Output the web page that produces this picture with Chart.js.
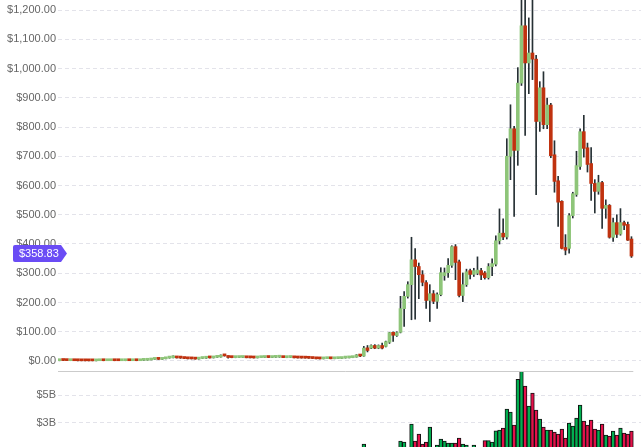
<!DOCTYPE html>
<html>
<head>
<meta charset="utf-8">
<script src="https://cdn.jsdelivr.net/npm/chart.js@4"></script>
<style>
  html, body { margin: 0; padding: 0; background: #fff; overflow: hidden; }
  #wrap { position: absolute; left: 0; top: -10px; width: 643px; height: 484px; }
</style>
</head>
<body>
<div id="wrap"><canvas id="candleChart" width="643" height="484"></canvas></div>
<script>
// weekly candles, oldest first
var opens = [1.0, 2.8, 1.7, 1.2, 1.4, 0.9, 0.8, 0.7, 0.6, 0.6, 0.5, 0.9, 1.0, 0.9, 0.95, 1.0, 0.9, 0.85, 0.95, 1.1,
  0.95, 1.2, 0.95, 2.2, 2.5, 3.5, 5.5, 6.5, 5.6, 7.5, 10, 11, 12, 10.5, 10, 8.5, 7.5, 7.2, 6.5, 8.5,
  9.5, 12, 10.5, 12.5, 13.5, 19.5, 17.5, 13, 11.5, 11.8, 12, 12.5, 11.2, 11, 10.5, 11.5, 12, 12.8, 11.8, 12.5,
  13, 13, 11.5, 12, 12, 10.8, 10.3, 10, 9.8, 9.3, 8.5, 7.8, 7.2, 8, 8.1, 7.6, 8.2, 8.4, 10, 10.6,
  11.5, 13, 21, 17, 45, 44, 53, 44, 53, 50, 64, 98, 87, 98, 179, 221, 261, 346, 323, 295,
  268, 207, 230, 204, 227, 292, 302, 327, 391, 339, 224, 261, 309, 296, 300, 309, 301, 285, 323, 331,
  411, 437, 424, 700, 794, 720, 950, 1146, 1019, 1053, 1032, 819, 934, 808, 875, 705, 616, 546, 388, 385,
  497, 569, 665, 784, 729, 675, 607, 580, 610, 522, 532, 423, 473, 434, 473, 467, 417];
var highs = [3.0, 3.0, 1.8, 1.6, 1.5, 1.0, 0.9, 0.8, 0.7, 0.7, 1.0, 1.1, 1.1, 1.0, 1.1, 1.05, 0.95, 1.0, 1.2, 1.15,
  1.3, 1.25, 2.4, 2.8, 3.8, 6.0, 7.5, 7.0, 8.0, 11.5, 15, 18, 14, 13, 10.5, 9, 8.5, 7.5, 9, 10,
  12.5, 12.5, 13, 14.5, 21, 21.5, 18, 14, 12.5, 13, 15, 13, 11.8, 11.5, 12, 12.5, 13.5, 13.2, 13, 13.5,
  13.8, 13.2, 12.5, 12.8, 12.2, 11, 10.6, 10.4, 10, 9.5, 8.8, 8, 8.3, 8.4, 8.3, 8.5, 8.8, 10.5, 11.2, 12,
  13.5, 22, 22, 50, 53, 55, 56, 55, 61, 68, 98, 100, 100, 221, 237, 271, 423, 384, 335, 309,
  275, 261, 241, 233, 319, 318, 350, 394, 398, 345, 301, 314, 314, 317, 356, 317, 306, 333, 349, 428,
  520, 486, 760, 876, 802, 1003, 1300, 1420, 1173, 1300, 1045, 955, 989, 899, 881, 753, 631, 548, 432, 504,
  577, 717, 794, 840, 745, 730, 620, 635, 614, 551, 535, 489, 500, 521, 478, 475, 425];
var lows = [0.7, 1.5, 1.1, 1.0, 0.8, 0.6, 0.5, 0.5, 0.4, 0.4, 0.5, 0.8, 0.8, 0.85, 0.9, 0.85, 0.8, 0.8, 0.9, 0.9,
  0.9, 0.9, 0.9, 2.0, 2.4, 3.4, 5.2, 5.0, 5.5, 7.2, 9.5, 10.5, 10, 9, 8, 7, 6.8, 6, 6.2, 8.2,
  9.2, 10, 10.2, 12, 13, 16.5, 10, 11, 11, 11.5, 11.8, 10.8, 10.5, 10, 10.3, 11.2, 11.8, 11.5, 11.5, 12.2,
  12.5, 11, 11.2, 11.8, 10.5, 10, 9.8, 9.5, 9, 8.2, 7, 6.8, 7, 7.8, 7.4, 7.5, 8, 8.2, 9.8, 10.4,
  11.2, 12.8, 15, 16, 31, 42, 42, 42, 41, 48, 60, 67, 84, 96, 118, 215, 141, 143, 213, 257,
  180, 135, 196, 180, 223, 276, 286, 320, 278, 219, 203, 255, 281, 289, 295, 278, 280, 280, 292, 325,
  400, 415, 417, 620, 494, 669, 942, 771, 914, 962, 569, 785, 794, 794, 695, 577, 460, 383, 363, 369,
  489, 563, 655, 697, 646, 549, 506, 570, 453, 488, 420, 409, 422, 430, 449, 412, 354];
var closes = [2.8, 1.7, 1.3, 1.4, 0.9, 0.8, 0.6, 0.6, 0.5, 0.5, 0.9, 1.0, 0.9, 0.95, 1.0, 0.9, 0.85, 0.95, 1.1, 0.95,
  1.2, 0.95, 2.2, 2.5, 3.5, 5.5, 6.5, 5.6, 7.5, 10.5, 11.5, 12, 10.5, 10, 8.5, 7.5, 7.2, 6.5, 8.5, 9.5,
  11.5, 10.5, 12.5, 13.5, 19.5, 17.5, 12, 11.5, 11.8, 12.5, 12.8, 11, 10.8, 10.4, 11.5, 12, 12.8, 11.8, 12.5, 13,
  13.2, 11.5, 12, 12.4, 10.8, 10.3, 10, 9.8, 9.3, 8.5, 7.5, 7.2, 8, 8.1, 7.6, 8.2, 8.4, 10, 10.6, 11.5,
  13, 21, 17, 44, 36, 53, 44, 53, 44, 66, 97, 88, 97, 179, 221, 261, 346, 323, 295, 269,
  207, 230, 204, 227, 302, 302, 327, 391, 337, 224, 261, 305, 296, 309, 311, 294, 285, 323, 333, 411,
  437, 424, 700, 794, 720, 950, 1146, 1019, 1053, 1032, 819, 934, 808, 875, 702, 614, 543, 385, 379, 497,
  572, 668, 784, 727, 672, 607, 580, 610, 522, 532, 423, 473, 433, 473, 464, 413, 358.83];
// weekly volume, billions of dollars
var volumes = [0.01, 0.01, 0.01, 0.01, 0.01, 0.01, 0.01, 0.01, 0.01, 0.01, 0.01, 0.01, 0.01, 0.01, 0.01, 0.01, 0.01, 0.01, 0.01, 0.01,
  0.01, 0.01, 0.03, 0.05, 0.06, 0.1, 0.12, 0.1, 0.1, 0.15, 0.2, 0.25, 0.2, 0.15, 0.12, 0.1, 0.1, 0.08, 0.08, 0.08,
  0.1, 0.1, 0.1, 0.12, 0.3, 0.3, 0.25, 0.15, 0.1, 0.08, 0.1, 0.08, 0.06, 0.06, 0.05, 0.05, 0.06, 0.06, 0.05, 0.05,
  0.05, 0.06, 0.05, 0.05, 0.05, 0.05, 0.04, 0.04, 0.04, 0.05, 0.06, 0.05, 0.04, 0.04, 0.04, 0.04, 0.05, 0.06, 0.06, 0.07,
  0.1, 0.4, 0.5, 1.45, 0.9, 0.8, 0.7, 0.8, 0.9, 1.0, 1.2, 1.1, 0.9, 1.67, 1.6, 1.2, 2.91, 1.67, 2.18, 1.45,
  1.6, 2.69, 1.2, 1.38, 1.82, 1.67, 1.52, 1.52, 1.52, 1.89, 1.45, 1.38, 1.1, 1.38, 1.15, 1.2, 1.7, 1.7, 1.6, 2.42,
  2.47, 2.62, 4.0, 3.78, 2.83, 6.18, 6.76, 5.68, 4.22, 5.17, 3.93, 3.27, 2.69, 2.47, 2.47, 2.33, 2.18, 2.55, 1.89, 2.98,
  2.76, 3.34, 4.29, 3.13, 2.83, 3.2, 2.55, 2.47, 2.91, 2.11, 2.04, 2.4, 2.11, 2.62, 2.25, 2.18, 2.4];

var priceTicks = [0, 100, 200, 300, 400, 500, 600, 700, 800, 900, 1000, 1100, 1200];
var volumeTicks = [3, 5];

var upColor = '#8ec579';
var downColor = '#c0320f';
var volUpColor = '#00b050';
var volDownColor = '#e5104a';
var tickFont = { family: 'Liberation Sans', size: 11 };

var up = closes.map(function (c, i) { return c >= opens[i]; });
var idx = closes.map(function (c, i) { return i; });

var overlay = {
  id: 'overlay',
  afterDatasetsDraw: function (chart) {
    // solid line between price and volume panes
    var ctx = chart.ctx;
    var area = chart.chartArea;
    var y = Math.round(chart.scales.yv.top) + 0.5;
    var xEnd = chart.scales.x.getPixelForValue(closes.length - 0.5);
    ctx.save();
    ctx.strokeStyle = '#cbcbcb';
    ctx.lineWidth = 1;
    ctx.beginPath();
    ctx.moveTo(area.left, y);
    ctx.lineTo(xEnd, y);
    ctx.stroke();
    ctx.restore();
  },
  afterDraw: function (chart) {
    // last price tag
    var ctx = chart.ctx;
    var last = closes[closes.length - 1];
    var py = Math.round(chart.scales.y.getPixelForValue(last)) - 2.5;
    var l = 13, r = 61, h = 8.5;
    ctx.save();
    ctx.fillStyle = '#6a4cf5';
    ctx.beginPath();
    ctx.moveTo(l + 2, py - h);
    ctx.lineTo(r, py - h);
    ctx.lineTo(r + 6, py);
    ctx.lineTo(r, py + h);
    ctx.lineTo(l + 2, py + h);
    ctx.quadraticCurveTo(l, py + h, l, py + h - 2);
    ctx.lineTo(l, py - h + 2);
    ctx.quadraticCurveTo(l, py - h, l + 2, py - h);
    ctx.fill();
    ctx.fillStyle = '#ffffff';
    ctx.font = '11px "Liberation Sans"';
    ctx.textBaseline = 'middle';
    ctx.fillText('$' + last.toFixed(2), 19, py + 0.5);
    ctx.restore();
  }
};

var config = {
  type: 'bar',
  data: {
    datasets: [{
      label: 'wick',
      data: idx.map(function (i) { return { x: i, y: [lows[i], highs[i]] }; }),
      backgroundColor: '#263034',
      barThickness: 1,
      grouped: false,
      order: 2,
      yAxisID: 'y'
    }, {
      label: 'body',
      data: idx.map(function (i) { return { x: i, y: [opens[i], closes[i]] }; }),
      backgroundColor: up.map(function (u) { return u ? upColor : downColor; }),
      barThickness: 3,
      minBarLength: 2,
      grouped: false,
      order: 1,
      yAxisID: 'y'
    }, {
      label: 'volume',
      data: idx.map(function (i) { return { x: i, y: volumes[i] }; }),
      backgroundColor: up.map(function (u) { return u ? volUpColor : volDownColor; }),
      borderColor: '#111111',
      borderWidth: 1,
      barThickness: 3.667,
      grouped: false,
      order: 3,
      yAxisID: 'yv'
    }]
  },
  options: {
    responsive: false,
    animation: false,
    events: [],
    layout: { padding: { top: 10, bottom: 10, left: 0, right: 2 } },
    plugins: { legend: { display: false }, tooltip: { enabled: false } },
    scales: {
      x: {
        type: 'linear',
        display: false,
        offset: false,
        min: -0.41,
        max: 158.6,
        ticks: { includeBounds: false },
        grid: { display: false }
      },
      yv: {
        type: 'linear',
        position: 'left',
        stack: 'panes',
        stackWeight: 93,
        min: 0,
        max: 6.78,
        afterBuildTicks: function (s) { s.ticks = volumeTicks.map(function (v) { return { value: v }; }); },
        afterFit: function (s) { s.width = 58; },
        ticks: {
          autoSkip: false,
          padding: 2,
          color: '#666666',
          font: tickFont,
          callback: function (v) { return '$' + v + 'B'; }
        },
        grid: { color: '#e3e3ea', drawTicks: false },
        border: { display: false, dash: [4, 3] }
      },
      y: {
        type: 'linear',
        position: 'left',
        stack: 'panes',
        stackWeight: 371,
        min: -34.2,
        max: 1234.2,
        afterBuildTicks: function (s) { s.ticks = priceTicks.map(function (v) { return { value: v }; }); },
        afterFit: function (s) { s.width = 58; },
        ticks: {
          autoSkip: false,
          padding: 2,
          color: '#666666',
          font: tickFont,
          callback: function (v) {
            return '$' + v.toLocaleString('en-US', { minimumFractionDigits: 2, maximumFractionDigits: 2 });
          }
        },
        grid: { color: '#e3e3ea', drawTicks: false },
        border: { display: false, dash: [4, 3] }
      }
    }
  },
  plugins: [overlay]
};

var candleChart = new Chart(document.getElementById('candleChart'), config);
</script>
</body>
</html>
